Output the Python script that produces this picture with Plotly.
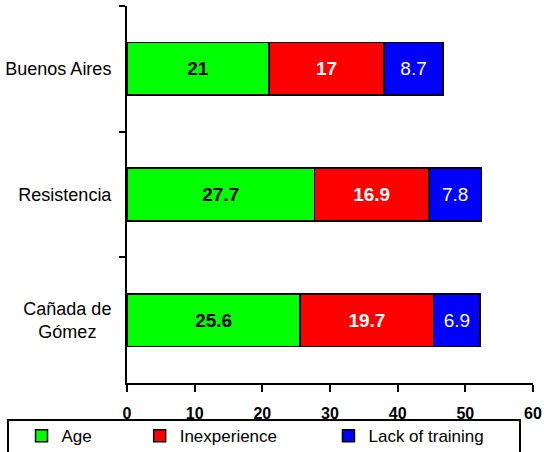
import plotly.graph_objects as go

cities = ["Buenos Aires", "Resistencia", "Cañada de<br>Gómez&nbsp;&nbsp;&nbsp;"]
age = [21, 27.7, 25.6]
inexperience = [17, 16.9, 19.7]
lack_training = [8.7, 7.8, 6.9]
x_ticks = [0, 10, 20, 30, 40, 50, 60]

font_family = "Liberation Sans, Arial, sans-serif"

fig = go.Figure()
series = [
    ("Age", age, "#00FF00", dict(color="black", size=19, family=font_family, weight="bold"), "legend"),
    ("Inexperience", inexperience, "#FF0000", dict(color="white", size=19, family=font_family, weight="bold"), "legend2"),
    ("Lack of training", lack_training, "#0000FF", dict(color="white", size=19, family=font_family), "legend3"),
]
for name, vals, col, tf, lg in series:
    fig.add_trace(go.Bar(
        y=cities, x=vals, name=name, orientation="h",
        marker=dict(color=col, line=dict(color="black", width=1.5)),
        text=[str(v) for v in vals], textposition="inside",
        insidetextanchor="middle", textangle=0, constraintext="none",
        textfont=tf, legend=lg, width=0.42, showlegend=True,
    ))

leg_common = dict(orientation="h", yanchor="middle", y=-0.141, xanchor="left",
                  font=dict(size=17, family=font_family, color="black"),
                  bgcolor="rgba(0,0,0,0)", itemwidth=30)
shift = -6 / 406

fig.update_layout(
    barmode="stack",
    showlegend=True,
    width=544, height=452,
    margin=dict(l=127, r=11, t=6, b=69, autoexpand=False),
    plot_bgcolor="white", paper_bgcolor="white",
    font=dict(family=font_family, color="black"),
    legend=dict(x=-0.245 + shift, **leg_common),
    legend2=dict(x=0.046 + shift, **leg_common),
    legend3=dict(x=0.511 + shift, **leg_common),
    xaxis=dict(range=[0, 60], tickvals=x_ticks, ticks="outside", ticklen=7,
               tickwidth=2, tickcolor="black", showline=True, linecolor="black",
               linewidth=2, showgrid=False, zeroline=False, automargin=False,
               tickfont=dict(size=16, family=font_family, weight="bold"),
               ticklabelstandoff=8),
    yaxis=dict(type="category", categoryorder="array", categoryarray=cities,
               autorange="reversed", tickson="boundaries", ticks="outside",
               ticklen=6, tickwidth=2, tickcolor="black", showline=True,
               linecolor="black", linewidth=2, showgrid=False, automargin=False,
               tickfont=dict(size=18, family=font_family), ticklabelstandoff=10),
    shapes=[dict(type="rect", xref="paper", yref="paper",
                 x0=(8 - 127) / 406, x1=(520 - 127) / 406,
                 y0=(383 - 460) / 377, y1=(383 - 420) / 377,
                 line=dict(color="black", width=2), fillcolor="rgba(0,0,0,0)")],
)

fig.write_html("out.html", config={"displayModeBar": False},
               post_script="document.body.style.margin='0';document.body.style.overflow='hidden';")
